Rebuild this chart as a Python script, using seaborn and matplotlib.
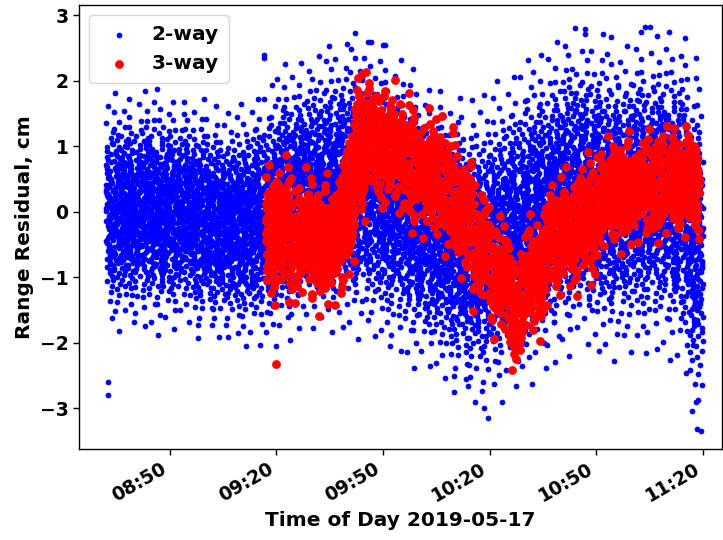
import numpy as np
import pandas as pd
import matplotlib
matplotlib.use("Agg")
import matplotlib.pyplot as plt
import matplotlib.dates as mdates
import seaborn as sns

DAY = "2019-05-17"

# ---- 2-way residuals: cloud read per 4-minute bin (centre, spread, cm) ----
blue_bin_start = ["08:32", "08:36", "08:40", "08:44", "08:48", "08:52", "08:56",
                  "09:00", "09:04", "09:08", "09:12", "09:16", "09:20", "09:24",
                  "09:28", "09:32", "09:36", "09:40", "09:44", "09:48", "09:52",
                  "09:56", "10:00", "10:04", "10:08", "10:12", "10:16", "10:20",
                  "10:24", "10:28", "10:32", "10:36", "10:40", "10:44", "10:48",
                  "10:52", "10:56", "11:00", "11:04", "11:08", "11:12", "11:16"]
blue_bin_minutes = 4
blue_center = [0.00, 0.02, 0.05, 0.00, -0.05, 0.00, -0.10, -0.15, -0.20, -0.20,
               -0.15, -0.05, 0.15, 0.25, 0.30, 0.35, 0.40, 0.40, 0.35, 0.25,
               0.10, -0.10, -0.25, -0.35, -0.50, -0.60, -0.60, -0.45, -0.30,
               -0.15, 0.00, 0.15, 0.30, 0.35, 0.30, 0.20, 0.20, 0.30, 0.30,
               0.25, 0.10, -0.50]
blue_spread = [0.64, 0.60, 0.63, 0.66, 0.61, 0.59, 0.64, 0.62, 0.60, 0.65,
               0.66, 0.70, 0.74, 0.71, 0.73, 0.77, 0.76, 0.82, 0.79, 0.81,
               0.78, 0.80, 0.74, 0.77, 0.79, 0.81, 0.84, 0.86, 0.83, 0.87,
               0.84, 0.86, 0.88, 0.83, 0.85, 0.87, 0.82, 0.86, 0.84, 0.88,
               0.90, 1.00]
blue_points_per_bin = 178

# isolated 2-way points
blue_extra_time = ["08:32:40", "08:32:40", "09:16:30", "09:16:30", "09:45:40",
                   "09:50:00", "10:13:20", "10:19:30", "10:46:50", "11:03:40",
                   "11:05:00", "11:18:20", "11:18:00"]
blue_extra_val = [-2.60, -2.80, 2.40, 2.35, 2.60, 2.55, -2.55, -3.15, 2.80,
                  2.83, 2.82, -3.32, -2.90]

# ---- 3-way residuals: cloud read per bin (edges, centre, spread, cm) ----
red_bin_edges = ["09:17", "09:20", "09:25", "09:30", "09:35", "09:39", "09:42",
                 "09:45", "09:50", "09:55", "10:00", "10:05", "10:10", "10:15",
                 "10:20", "10:25", "10:30", "10:35", "10:40", "10:45", "10:50",
                 "10:55", "11:00", "11:05", "11:10", "11:15", "11:19"]
red_center = [-0.35, -0.25, -0.35, -0.50, -0.35, 0.20, 0.95, 1.10, 1.00, 0.75,
              0.60, 0.40, 0.00, -0.55, -1.00, -1.40, -1.00, -0.50, -0.30, -0.10,
              0.25, 0.30, 0.40, 0.42, 0.45, 0.45]
red_spread = [0.42, 0.44, 0.41, 0.43, 0.42, 0.45, 0.43, 0.41, 0.40, 0.42,
              0.39, 0.42, 0.40, 0.38, 0.37, 0.40, 0.38, 0.36, 0.39, 0.40,
              0.36, 0.37, 0.34, 0.35, 0.33, 0.34]
red_points_per_bin = 89

red_extra_time = ["09:20:00", "09:44:00"]
red_extra_val = [-2.32, 2.10]

# standard scatter offsets (positive half of a symmetric set of 89)
z_pos = [0.028, 0.056, 0.085, 0.113, 0.141, 0.169, 0.198, 0.227, 0.256, 0.286,
         0.315, 0.345, 0.376, 0.405, 0.437, 0.469, 0.499, 0.532, 0.564, 0.597,
         0.632, 0.667, 0.701, 0.739, 0.776, 0.814, 0.855, 0.895, 0.936, 0.982,
         1.030, 1.080, 1.131, 1.186, 1.245, 1.308, 1.377, 1.455, 1.538, 1.637,
         1.760, 1.908, 2.120, 2.540]
half_scale = [1.00, 1.12]
mults = [34, 21, 55, 13, 47, 29, 61, 38, 17, 52, 25, 70, 43, 11, 66, 31, 7, 58]
shifts = [5, 40, 77, 12, 63, 28, 81, 19, 50, 3, 71, 36, 9, 57, 24, 86, 45, 15]


def ts(hm):
    return pd.Timestamp(f"{DAY} {hm}")


def cloud(starts, ends, centers, spreads, n):
    z = np.concatenate([-np.array(z_pos)[::-1], [0.0], np.array(z_pos)])
    m = len(z)
    times, vals = [], []
    for b, (s, e, c, sd) in enumerate(zip(starts, ends, centers, spreads)):
        j = np.arange(n)
        h = j // m
        r = j % m
        a = np.array([mults[(b + 5 * k) % len(mults)] for k in h])
        c0 = np.array([shifts[(3 * b + 7 * k) % len(shifts)] for k in h])
        sc = np.array([half_scale[k % 2] for k in h])
        idx = ((a * r + c0) % m) ** 3 % m
        frac = (j + 0.5) / n
        times.append(s + (e - s) * frac)
        vals.append(c + sd * sc * z[idx])
    return pd.DatetimeIndex(np.concatenate(times)), np.concatenate(vals)


b_starts = [ts(h) for h in blue_bin_start]
b_ends = [s + pd.Timedelta(minutes=blue_bin_minutes) for s in b_starts]
bt, bv = cloud(b_starts, b_ends, blue_center, blue_spread, blue_points_per_bin)
bt = bt.append(pd.DatetimeIndex([ts(t) for t in blue_extra_time]))
bv = np.concatenate([bv, blue_extra_val])

r_edges = [ts(h) for h in red_bin_edges]
rt, rv = cloud(r_edges[:-1], r_edges[1:], red_center, red_spread, red_points_per_bin)
rt = rt.append(pd.DatetimeIndex([ts(t) for t in red_extra_time]))
rv = np.concatenate([rv, red_extra_val])

df2 = pd.DataFrame({"time": bt, "res": bv})
df3 = pd.DataFrame({"time": rt, "res": rv})

sns.set_style("ticks")
plt.rcParams["font.family"] = ["DejaVu Sans"]
plt.rcParams["font.weight"] = "bold"
plt.rcParams["axes.labelweight"] = "bold"
plt.rcParams["text.color"] = "black"
plt.rcParams["axes.labelcolor"] = "black"
plt.rcParams["xtick.color"] = "black"
plt.rcParams["ytick.color"] = "black"
plt.rcParams["axes.edgecolor"] = "black"

fig = plt.figure(figsize=(7.23, 5.40), dpi=100)
ax = fig.add_axes([0.109, 0.1685, 0.8896, 0.8222])

sns.scatterplot(data=df2, x="time", y="res", color="blue", s=17, linewidth=0,
                label="2-way", ax=ax)
sns.scatterplot(data=df3, x="time", y="res", color="red", s=40, linewidth=0,
                label="3-way", ax=ax)

ax.set_xlim(ts("08:24:25"), ts("11:25:20"))
ax.set_ylim(-3.62, 3.16)
ax.set_yticks([-3, -2, -1, 0, 1, 2, 3])
ax.set_yticklabels(["\u22123", "\u22122", "\u22121", "0", "1", "2", "3"])
ax.xaxis.set_major_locator(mdates.MinuteLocator(byminute=[20, 50]))
ax.xaxis.set_major_formatter(mdates.DateFormatter("%H:%M"))
ax.tick_params(axis="both", labelsize=13.5, length=4, width=1, colors="black")
for lab in ax.get_xticklabels():
    lab.set_rotation(30)
    lab.set_ha("right")
    lab.set_fontweight("bold")
for lab in ax.get_yticklabels():
    lab.set_fontweight("bold")

ax.set_xlabel("Time of Day 2019-05-17", fontsize=14.5, fontweight="bold",
              color="black")
ax.set_ylabel("Range Residual, cm", fontsize=14.5, fontweight="bold",
              color="black")
for sp in ax.spines.values():
    sp.set_visible(True)
    sp.set_color("black")
    sp.set_linewidth(1)

leg = ax.legend(loc="upper left", prop={"weight": "bold", "size": 14.5},
                handletextpad=0.6, borderpad=0.5, borderaxespad=0.5)
for t in leg.get_texts():
    t.set_color("black")

fig.savefig("out.png", dpi=100)
